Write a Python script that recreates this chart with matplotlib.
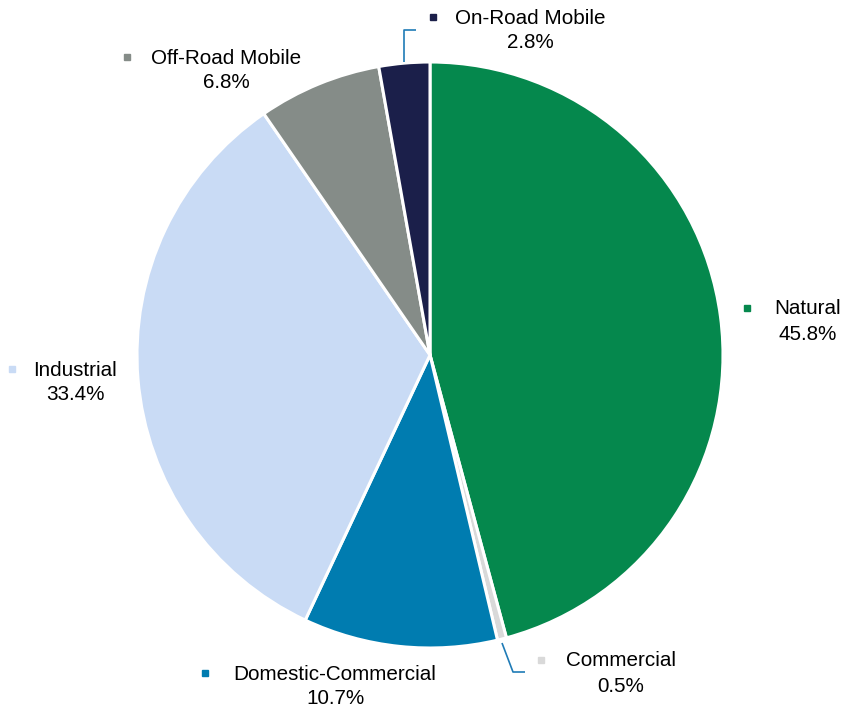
import matplotlib
matplotlib.use("Agg")
import matplotlib.pyplot as plt

categories = ["Natural", "Commercial", "Domestic-Commercial", "Industrial", "Off-Road Mobile", "On-Road Mobile"]
values = [45.8, 0.5, 10.7, 33.4, 6.8, 2.8]
colors = ["#05884D", "#D9D9D9", "#007CB0", "#C9DBF5", "#858C88", "#1B1F4A"]

W, H = 846, 711
fig = plt.figure(figsize=(W / 100, H / 100), dpi=100)
ax = fig.add_axes([0, 0, 1, 1])

cx, cy, R = 430, H - 355, 293
ax.pie(values, colors=colors, startangle=90, counterclock=False,
       center=(cx, cy), radius=R,
       wedgeprops=dict(edgecolor="white", linewidth=2.2), frame=True)
ax.set_xlim(0, W)
ax.set_ylim(0, H)
ax.axis("off")

# label layout: (text center x, first line y, marker x) in pixel coords from top
layout = {
    "Natural": (808, 309, 747),
    "Commercial": (621, 661, 541),
    "Domestic-Commercial": (335, 674, 205),
    "Industrial": (75, 370, 12),
    "Off-Road Mobile": (226, 58, 127),
    "On-Road Mobile": (530, 18, 433),
}
fam = ["Liberation Sans", "DejaVu Sans"]
for cat, val, col in zip(categories, values, colors):
    tx, ty, mx = layout[cat]
    ax.text(tx, H - ty, cat, ha="center", va="center", fontsize=14.9, family=fam, color="black")
    ax.text(tx, H - ty - 25, f"{val:.1f}%", ha="center", va="center", fontsize=14.9, family=fam, color="black")
    ax.plot([mx], [H - ty + 1], marker="s", markersize=4.4, color=col, linestyle="none")

# leader lines
lc = "#1F7BB6"
ax.plot([404, 404, 416], [H - 62, H - 30, H - 30], color=lc, lw=1.2, solid_capstyle="butt")
ax.plot([502, 513, 525], [H - 643, H - 672, H - 672], color=lc, lw=1.2, solid_capstyle="butt")

fig.savefig("out.png", dpi=100, facecolor="white")
